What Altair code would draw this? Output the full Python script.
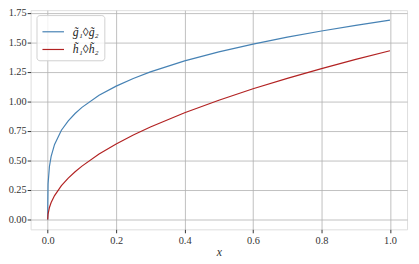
import altair as alt
import pandas as pd

xs = [0, 0.00001, 0.001, 0.005, 0.01, 0.02, 0.04, 0.06, 0.08, 0.1, 0.15, 0.2, 0.25,
      0.3, 0.4, 0.5, 0.6, 0.7, 0.8, 0.9, 1.0]
g_vals = [0.0, 0.095, 0.30, 0.449, 0.534, 0.636, 0.756, 0.836, 0.898, 0.950, 1.052,
          1.130, 1.195, 1.251, 1.344, 1.421, 1.487, 1.546, 1.598, 1.646, 1.69]
h_vals = [0.0, 0.005, 0.045, 0.101, 0.143, 0.202, 0.286, 0.350, 0.404, 0.452, 0.554,
          0.640, 0.715, 0.783, 0.904, 1.011, 1.108, 1.196, 1.279, 1.357, 1.43]
names = ["g̃₁◊g̃₂", "h̃₁◊h̃₂"]
colors = ["#4682b4", "#b22222"]
x_ticks = [0.0, 0.2, 0.4, 0.6, 0.8, 1.0]
y_ticks = [0.0, 0.25, 0.5, 0.75, 1.0, 1.25, 1.5, 1.75]

rows = []
for i, x in enumerate(xs):
    rows.append({"x": x, "y": g_vals[i], "s": names[0], "o": i})
    rows.append({"x": x, "y": h_vals[i], "s": names[1], "o": i})
df = pd.DataFrame(rows)

font = "Liberation Serif"

chart = alt.Chart(df).mark_line(strokeWidth=1.2).encode(
    x=alt.X("x:Q", scale=alt.Scale(domain=[-0.05, 1.05], nice=False, zero=False),
            axis=alt.Axis(values=x_ticks, format=".1f", title="x", titleFontStyle="italic",
                          titleFontWeight="normal", titleFontSize=12, titlePadding=1,
                          titleColor="#333",
                          domain=False, grid=True, gridColor="#b0b0b0", gridWidth=0.8,
                          tickColor="#333", tickSize=3.5, labelColor="#333",
                          labelFontSize=10.5, labelPadding=3)),
    y=alt.Y("y:Q", scale=alt.Scale(domain=[-0.0845, 1.7745], nice=False, zero=False),
            axis=alt.Axis(values=y_ticks, format=".2f", title=None,
                          domain=False, grid=True, gridColor="#b0b0b0", gridWidth=0.8,
                          tickColor="#333", tickSize=3.5, labelColor="#333",
                          labelFontSize=10.5, labelPadding=1)),
    color=alt.Color("s:N", scale=alt.Scale(domain=names, range=colors),
                    legend=alt.Legend(title=None, orient="none", legendX=6, legendY=5,
                                      symbolType="stroke", symbolSize=480, symbolStrokeWidth=1.2,
                                      labelFontSize=12, labelFontStyle="italic",
                                      fillColor="rgba(255,255,255,0.8)", strokeColor="#d0d0d0",
                                      cornerRadius=3, padding=5, rowPadding=0, labelOffset=8,
                                      labelColor="#222")),
    order="o:Q",
).properties(
    width=383, height=223,
    padding={"left": 23, "top": 0, "right": 4, "bottom": 30},
    autosize=alt.AutoSizeParams(type="none"),
).configure_view(
    stroke="#333", strokeWidth=1
).configure(
    font=font
)

chart.save("out.html", embed_options={"renderer": "svg", "actions": False})
